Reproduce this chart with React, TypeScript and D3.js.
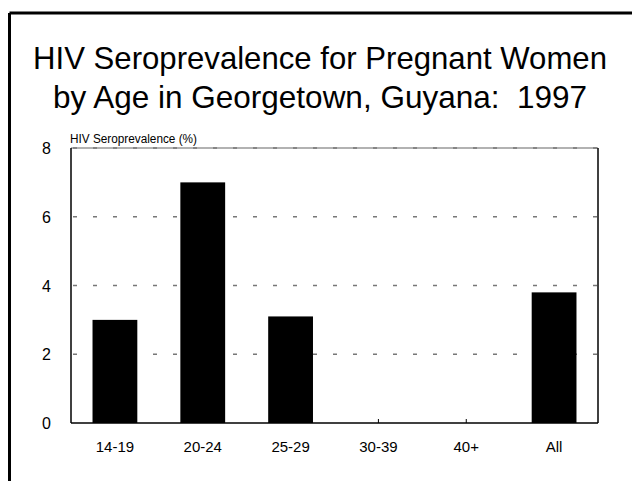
import React from "react";
import * as d3 from "d3";

const categories = ["14-19", "20-24", "25-29", "30-39", "40+", "All"];
const values = [3.0, 7.0, 3.1, 0, 0, 3.8];
const yTicks = [0, 2, 4, 6, 8];
const titleLines = ["HIV Seroprevalence for Pregnant Women", "by Age in Georgetown, Guyana:  1997"];
const yLabel = "HIV Seroprevalence (%)";

export default function App() {
  const W = 632, H = 481;
  const left = 71, right = 598, top = 148, bottom = 423;
  const x = d3.scaleBand<string>().domain(categories).range([left, right]).paddingInner(0.49).paddingOuter(0.245);
  const xc = d3.scaleBand<string>().domain(categories).range([left, right]);
  const y = d3.scaleLinear().domain([0, 8]).range([bottom, top]);
  const font = "'Liberation Sans', Arial, sans-serif";
  return (
    <svg width={W} height={H} style={{ position: "absolute", left: 0, top: 0, background: "#fff" }}>
      <rect x={0} y={0} width={W} height={H} fill="#fff" />
      {/* outer frame */}
      <line x1={9.5} y1={13} x2={632} y2={13} stroke="#000" strokeWidth={3} />
      <line x1={9.5} y1={13} x2={9.5} y2={481} stroke="#000" strokeWidth={3} />
      {titleLines.map((t, i) => (
        <text key={i} x={320} y={69 + i * 39} textAnchor="middle" fontFamily={font} fontSize={32} textLength={i === 0 ? 574 : 534} lengthAdjust="spacingAndGlyphs" fill="#000">
          {t.replace(/  /g, "\u00a0 ")}
        </text>
      ))}
      <text x={70} y={143} fontFamily={font} fontSize={12.5} textLength={127} lengthAdjust="spacingAndGlyphs" fill="#000">{yLabel}</text>
      {/* gridlines */}
      <line x1={left} y1={y(8)} x2={right} y2={y(8)} stroke="#999" strokeWidth={1.5} />
      {yTicks.filter((v) => v > 0).map((v) => (
        <line key={v} x1={left} y1={y(v)} x2={right} y2={y(v)} stroke="#777" strokeWidth={1.5} strokeDasharray="4 16" strokeDashoffset={-2} />
      ))}
      {/* bars */}
      {categories.map((c, i) => values[i] > 0 ? (
        <rect key={c} x={x(c)} y={y(values[i])} width={x.bandwidth()} height={bottom - y(values[i])} fill="#000" />
      ) : null)}
      {/* axes */}
      <line x1={left} y1={top} x2={left} y2={bottom} stroke="#000" strokeWidth={1.5} />
      <line x1={right} y1={top} x2={right} y2={bottom} stroke="#000" strokeWidth={1.5} />
      <line x1={left} y1={bottom} x2={right} y2={bottom} stroke="#000" strokeWidth={1.5} />
      {categories.map((c) => (
        <line key={c} x1={xc(c)! + xc.bandwidth() / 2} y1={bottom} x2={xc(c)! + xc.bandwidth() / 2} y2={bottom - 4} stroke="#000" strokeWidth={1} />
      ))}
      {yTicks.map((v) => (
        <text key={v} x={51} y={y(v) + 6} textAnchor="end" fontFamily={font} fontSize={16} fill="#000">{v}</text>
      ))}
      {categories.map((c) => (
        <text key={c} x={xc(c)! + xc.bandwidth() / 2} y={452} textAnchor="middle" fontFamily={font} fontSize={15} fill="#000">{c}</text>
      ))}
    </svg>
  );
}
